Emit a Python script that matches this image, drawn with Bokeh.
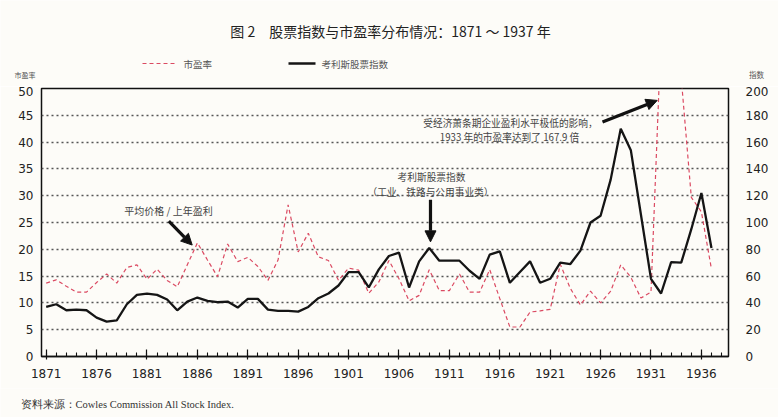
from bokeh.plotting import figure
from bokeh.layouts import column
from bokeh.models import (Range1d, LinearAxis, FixedTicker, Label, Arrow, NormalHead,
                          ColumnDataSource)
from bokeh.embed import file_html
from bokeh.resources import INLINE

# ---------------- data ----------------
years = list(range(1871, 1938))
pe_ratio = [13.7, 14.3, 13.1, 12.0, 12.0, 13.8, 15.4, 13.7, 16.6, 17.1,
            14.4, 16.3, 14.2, 13.0, 17.1, 21.2, 18.0, 14.9, 21.0, 17.7,
            18.5, 16.8, 14.2, 18.0, 28.3, 19.5, 23.0, 18.6, 17.9, 14.2,
            16.5, 16.1, 11.8, 13.9, 17.9, 14.5, 10.4, 11.4, 16.2, 12.3,
            12.3, 15.4, 12.0, 12.0, 16.2, 10.8, 5.5, 5.5, 8.3, 8.5,
            8.8, 17.2, 12.7, 9.6, 12.2, 10.0, 12.2, 17.1, 14.8, 10.9,
            12.0, 60.0, 167.9, 52.0, 29.7, 27.0, 16.3]
cowles_index = [37, 39, 34.5, 35, 34.5, 29, 26, 27, 39, 46,
                47, 46, 42.5, 34.5, 41, 44, 41.5, 40.5, 41, 36.5,
                43, 43, 35, 34, 34, 33.5, 37, 43.5, 47, 53,
                63, 63, 51.5, 65, 75, 77.5, 51.5, 71, 81, 71.5,
                71.5, 71.5, 64, 58, 76, 78.5, 55, 63, 71, 55,
                58, 70, 69, 79, 100, 105, 132, 170, 154, 106,
                58, 47, 70.5, 70, 95, 122, 81]
x_major_ticks = list(range(1871, 1937, 5))
x_minor_ticks = list(range(1871, 1939))
left_ticks = list(range(0, 51, 5))
right_ticks = list(range(0, 201, 20))

title_text = "图 2　股票指数与市盈率分布情况：1871 ～ 1937 年"
pe_name = "市盈率"
idx_name = "考利斯股票指数"
left_title = "市盈率"
right_title = "指数"
note1 = "平均价格 / 上年盈利"
note2a = "考利斯股票指数"
note2b = "（工业、铁路与公用事业类）"
note3a = "受经济萧条期企业盈利水平极低的影响，"
note3b = "1933 年的市盈率达到了 167.9 倍"
source_text = "资料来源：Cowles Commission All Stock Index."

BG = "#fdfcf8"
CJK = "Noto Sans CJK SC"
RED = "#db4a62"
BLACK = "#151515"
W = 778


def blank_fig(h):
    f = figure(width=W, height=h, output_backend="svg", toolbar_location=None,
               x_range=Range1d(0, W), y_range=Range1d(0, h),
               x_axis_location=None, y_axis_location=None, min_border=0,
               min_border_left=0, min_border_right=0, min_border_top=0,
               min_border_bottom=0, frame_align=False,
               background_fill_color=BG, border_fill_color=BG)
    f.outline_line_color = None
    f.xgrid.visible = False
    f.ygrid.visible = False
    return f


# ---------------- header (title, legend, axis titles) ----------------
HH = 86
head = blank_fig(HH)


def head_text(txt, px, py, size, color="#444444", align="center", font=CJK):
    head.add_layout(Label(x=px, y=HH - py, text=txt, text_font=font,
                          text_font_size=size, text_color=color,
                          text_align=align, text_baseline="middle"))


head_text(title_text, 390, 30, "14px", color="#222222")
head_text(left_title, 35, 74, "7px", align="right", color="#555555")
head_text(right_title, 756, 74, "7.5px", color="#555555")
head.add_layout(Arrow(end=None, x_start=142, y_start=HH - 63, x_end=177, y_end=HH - 63,
                      line_color=RED, line_width=1.2, line_dash="4 3"))
head_text(pe_name, 183, 63, "9.5px", align="left", color="#555555")
head.add_layout(Arrow(end=None, x_start=288, y_start=HH - 63, x_end=315, y_end=HH - 63,
                      line_color=BLACK, line_width=2.3))
head_text(idx_name, 321, 63, "9.5px", align="left", color="#555555")

# ---------------- main chart ----------------
p = figure(width=W, height=302, output_backend="svg", toolbar_location=None,
           x_range=Range1d(1870.534, 1938.69), y_range=Range1d(0, 50),
           min_border_left=41, min_border_right=50, min_border_top=2,
           min_border_bottom=32, frame_align=False,
           background_fill_color=BG, border_fill_color=BG)
p.extra_y_ranges = {"right": Range1d(0, 200)}
p.outline_line_color = "#111111"
p.outline_line_width = 1.5

xa = p.xaxis[0]
xa.ticker = FixedTicker(ticks=x_major_ticks, minor_ticks=x_minor_ticks)
xa.axis_line_color = "#111111"
xa.axis_line_width = 1.5
xa.major_tick_in = 7
xa.major_tick_out = 3
xa.minor_tick_in = 4
xa.minor_tick_out = 0
xa.major_tick_line_color = "#111111"
xa.minor_tick_line_color = "#111111"
xa.major_tick_line_width = 1.2
xa.minor_tick_line_width = 1.1
xa.major_label_standoff = 9
xa.major_label_text_font = "DejaVu Sans"
xa.major_label_text_font_size = "12px"
xa.major_label_text_color = "#222222"

ya = p.yaxis[0]
ya.ticker = FixedTicker(ticks=left_ticks)
ya.axis_line_color = None
ya.major_tick_line_color = None
ya.minor_tick_line_color = None
ya.major_label_standoff = 2
ya.major_label_text_font = "DejaVu Sans"
ya.major_label_text_font_size = "12px"
ya.major_label_text_color = "#222222"

ra = LinearAxis(y_range_name="right", ticker=FixedTicker(ticks=right_ticks))
ra.axis_line_color = None
ra.major_tick_line_color = None
ra.minor_tick_line_color = None
ra.major_label_standoff = 11
ra.major_label_text_font = "DejaVu Sans"
ra.major_label_text_font_size = "12px"
ra.major_label_text_color = "#222222"
p.add_layout(ra, "right")

p.xgrid.grid_line_color = None
p.ygrid.ticker = FixedTicker(ticks=left_ticks[1:-1])
p.ygrid.grid_line_color = "#555555"
p.ygrid.grid_line_dash = "2 3"
p.ygrid.grid_line_width = 1.3

src = ColumnDataSource(dict(year=years, pe=pe_ratio, idx=cowles_index))
p.line("year", "pe", source=src, line_color=RED, line_width=1.2, line_dash="4 3")
p.line("year", "idx", source=src, y_range_name="right",
       line_color=BLACK, line_width=2.3)


def dx(px):
    return 1871 + (px - 45.7) / 10.08


def dy(py):
    return (358 - py) / 5.4


def add_text(txt, px, py, size, color="#444444", align="center"):
    p.add_layout(Label(x=dx(px), y=dy(py), text=txt, text_font=CJK,
                       text_font_size=size, text_color=color, text_align=align,
                       text_baseline="middle"))


add_text(note1, 168, 211, "10px")
add_text(note2a, 431, 177, "9.7px")
add_text(note2b, 430, 192, "9.7px")
add_text(note3a, 510, 123, "9.7px")
add_text(note3b, 509, 137, "9.7px")

for (x0, y0, x1, y1) in [(168.3, 221.7, 191.7, 245.7),
                         (430, 200, 430, 242.5),
                         (602, 121.7, 656.7, 100)]:
    p.add_layout(Arrow(end=NormalHead(size=11, fill_color="#111111",
                                      line_color="#111111"),
                       x_start=dx(x0), y_start=dy(y0), x_end=dx(x1), y_end=dy(y1),
                       line_width=3.2, line_color="#111111"))

# ---------------- footer (source) ----------------
FH = 417 - HH - 302
foot = blank_fig(FH)
foot.add_layout(Label(x=20, y=417 - 402 - 2, text=source_text, text_font="Liberation Serif",
                      text_font_size="10.5px", text_color="#333333",
                      text_align="left", text_baseline="middle"))

layout = column(head, p, foot, spacing=0)
open("out.html", "w").write(file_html(layout, INLINE))
